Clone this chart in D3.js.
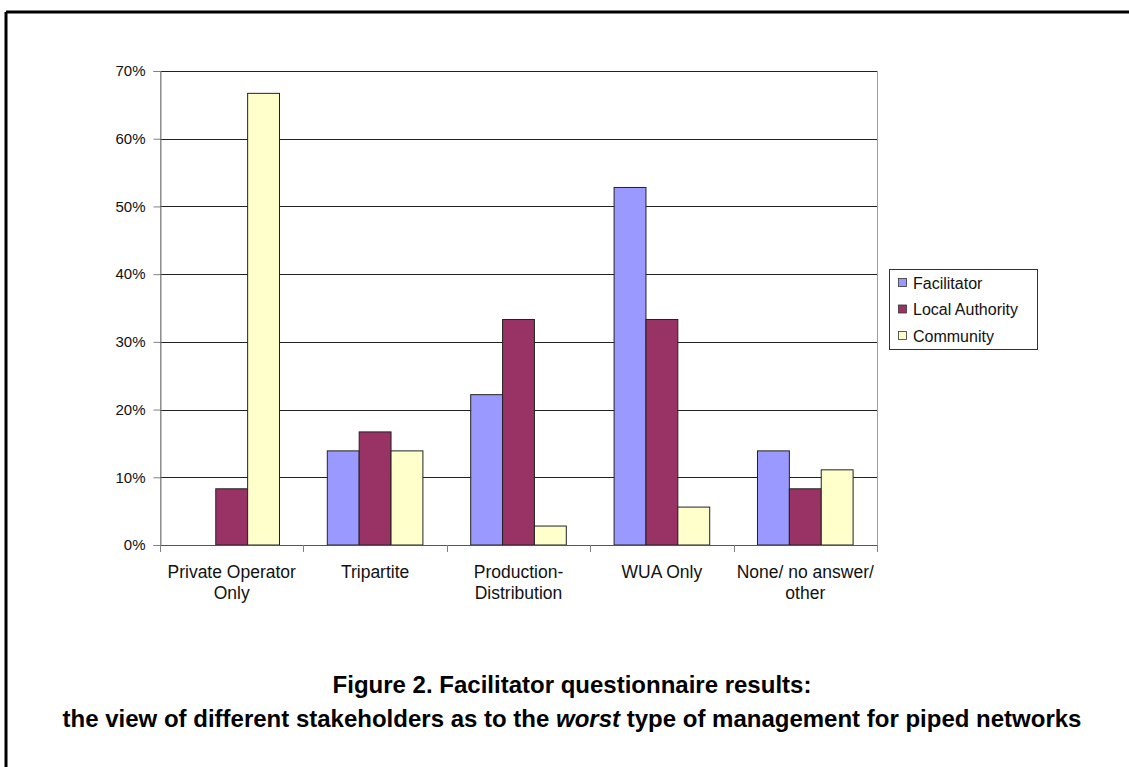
<!DOCTYPE html>
<html>
<head>
<meta charset="utf-8">
<script src="https://cdn.jsdelivr.net/npm/d3@7"></script>
<style>
  html, body { margin: 0; padding: 0; background: #fff; }
  svg { display: block; font-family: Arial, "Liberation Sans", sans-serif; }
</style>
</head>
<body>
<svg id="chart" width="1129" height="767"></svg>
<script>
// Management types (two-line labels where the category name wraps)
const categories = ["Private Operator Only", "Tripartite", "Production-Distribution", "WUA Only", "None/ no answer/ other"];
const categoryLines = [["Private Operator", "Only"], ["Tripartite"], ["Production-", "Distribution"], ["WUA Only"], ["None/ no answer/", "other"]];

// Stakeholder groups
const series = ["Facilitator", "Local Authority", "Community"];
const seriesColors = ["#9999FF", "#993366", "#FFFFCC"];

// Share of each group naming the management type as the worst
const facilitator    = [0.000, 0.139, 0.222, 0.528, 0.139];
const localAuthority = [0.083, 0.167, 0.333, 0.333, 0.083];
const community      = [0.667, 0.139, 0.028, 0.056, 0.111];

const yTicks = [0, 0.1, 0.2, 0.3, 0.4, 0.5, 0.6, 0.7];

const titleLine1 = "Figure 2. Facilitator questionnaire results:";
const titleLine2 = [
  { text: "the view of different stakeholders as to the ", italic: false },
  { text: "worst", italic: true },
  { text: " type of management for piped networks", italic: false }
];

const values = [facilitator, localAuthority, community];
const rows = categories.map((c, i) => ({
  category: c,
  lines: categoryLines[i],
  bars: series.map((s, j) => ({ series: s, value: values[j][i], color: seriesColors[j] }))
}));

const svg = d3.select("#chart");

// Frame around the figure
svg.append("line").attr("x1", 6).attr("x2", 1129).attr("y1", 12).attr("y2", 12)
  .attr("stroke", "#000").attr("stroke-width", 3);
svg.append("line").attr("x1", 6).attr("x2", 6).attr("y1", 12).attr("y2", 767)
  .attr("stroke", "#000").attr("stroke-width", 3);

const plot = { left: 160, right: 877, top: 71, bottom: 545 };

const x0 = d3.scaleBand().domain(categories).range([plot.left, plot.right]).padding(0);
const x1 = d3.scaleBand().domain(series).range([0, x0.bandwidth()]).paddingInner(0).paddingOuter(0.75);
const y = d3.scaleLinear().domain([0, 0.7]).range([plot.bottom, plot.top]);

// Plot area outline
svg.append("rect")
  .attr("x", plot.left + 0.5).attr("y", plot.top + 0.5)
  .attr("width", plot.right - plot.left).attr("height", plot.bottom - plot.top)
  .attr("fill", "none").attr("stroke", "#a0a0a0").attr("stroke-width", 1);

// Horizontal gridlines
svg.append("g").selectAll("line")
  .data(yTicks.filter(t => t > 0))
  .join("line")
  .attr("x1", plot.left).attr("x2", plot.right)
  .attr("y1", d => Math.round(y(d)) + 0.5).attr("y2", d => Math.round(y(d)) + 0.5)
  .attr("stroke", "#222").attr("stroke-width", 1);

// Bars
const groups = svg.append("g").selectAll("g")
  .data(rows)
  .join("g")
  .attr("transform", d => `translate(${x0(d.category)},0)`);

groups.selectAll("rect")
  .data(d => d.bars.filter(b => b.value > 0))
  .join("rect")
  .attr("x", d => x1(d.series))
  .attr("y", d => y(d.value))
  .attr("width", x1.bandwidth())
  .attr("height", d => y(0) - y(d.value))
  .attr("fill", d => d.color)
  .attr("stroke", "#222")
  .attr("stroke-width", 1);

// Y axis
const yAxis = d3.axisLeft(y).tickValues(yTicks).tickFormat(d3.format(".0%")).tickSize(7).tickPadding(8);
const gy = svg.append("g").attr("transform", `translate(${plot.left + 0.5},0)`).call(yAxis);
gy.select(".domain").attr("stroke", "#808080");
gy.selectAll(".tick line").attr("stroke", "#808080");
gy.selectAll(".tick text").attr("font-size", 15).attr("fill", "#111")
  .attr("font-family", "Arial, 'Liberation Sans', sans-serif");

// X axis: category boundaries as ticks
svg.append("line")
  .attr("x1", plot.left).attr("x2", plot.right)
  .attr("y1", plot.bottom + 0.5).attr("y2", plot.bottom + 0.5)
  .attr("stroke", "#555").attr("stroke-width", 1.2);
const boundaries = categories.map(c => x0(c)).concat([plot.right]);
svg.append("g").selectAll("line")
  .data(boundaries)
  .join("line")
  .attr("x1", d => Math.round(d) + 0.5).attr("x2", d => Math.round(d) + 0.5)
  .attr("y1", plot.bottom).attr("y2", plot.bottom + 7)
  .attr("stroke", "#808080");

// Category labels
const labels = svg.append("g").selectAll("text")
  .data(rows)
  .join("text")
  .attr("text-anchor", "middle")
  .attr("font-size", 17.5)
  .attr("fill", "#111");
labels.selectAll("tspan")
  .data(d => d.lines.map((l, i) => ({ l, i, cx: x0(d.category) + x0.bandwidth() / 2 })))
  .join("tspan")
  .attr("x", d => d.cx)
  .attr("y", d => 578 + d.i * 20.5)
  .text(d => d.l);

// Legend
const legend = svg.append("g");
legend.append("rect")
  .attr("x", 889.5).attr("y", 269.5).attr("width", 148).attr("height", 80)
  .attr("fill", "#fff").attr("stroke", "#333").attr("stroke-width", 1);
const li = legend.selectAll("g.item")
  .data(series)
  .join("g").attr("class", "item")
  .attr("transform", (d, i) => `translate(0,${283 + i * 26.5})`);
li.append("rect")
  .attr("x", 898.5).attr("y", -4.5).attr("width", 8).attr("height", 8)
  .attr("fill", (d, i) => seriesColors[i]).attr("stroke", "#333").attr("stroke-width", 0.8);
li.append("text")
  .attr("x", 913).attr("y", 5.5)
  .attr("font-size", 16).attr("fill", "#111")
  .text(d => d);

// Caption
const cx = 572;
svg.append("text")
  .attr("x", cx).attr("y", 693)
  .attr("text-anchor", "middle")
  .attr("font-size", 24).attr("font-weight", "bold").attr("fill", "#000")
  .text(titleLine1);
const t2 = svg.append("text")
  .attr("x", cx).attr("y", 727)
  .attr("text-anchor", "middle")
  .attr("font-size", 24).attr("font-weight", "bold").attr("fill", "#000");
t2.selectAll("tspan")
  .data(titleLine2)
  .join("tspan")
  .attr("font-style", d => d.italic ? "italic" : "normal")
  .text(d => d.text);
</script>
</body>
</html>
